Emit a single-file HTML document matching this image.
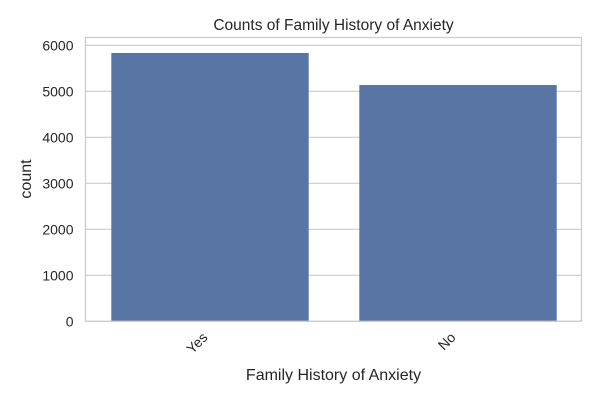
<!DOCTYPE html>
<html><head><meta charset="utf-8"><style>
body{margin:0;background:#fff;font-family:"Liberation Sans","DejaVu Sans",sans-serif}
</style></head><body>
<svg width="600" height="400" xmlns="http://www.w3.org/2000/svg">
<rect width="600" height="400" fill="#fff"/>
<text x="333.5" y="30" text-anchor="middle" font-size="15.5" fill="#262626">Counts of Family History of Anxiety</text>
<g id="grid"></g><g id="bars"></g><g id="ticks"></g>
<rect x="85.5" y="37.5" width="496" height="283.8" fill="none" stroke="#cccccc" stroke-width="1.3"/>
<text x="333.5" y="380" text-anchor="middle" font-size="16" fill="#262626">Family History of Anxiety</text>
<text transform="translate(31,179) rotate(-90)" text-anchor="middle" font-size="16" fill="#262626">count</text>
</svg>
<script>
const categories=["Yes","No"];
const counts=[5833,5137];
const yTicks=[0,1000,2000,3000,4000,5000,6000];
const ns="http://www.w3.org/2000/svg";
const L=85.5,R=581.5,Y0=321.3,PX=0.046;
const y=v=>Y0-v*PX;
const band=(R-L)/categories.length;
const x=i=>L+band*i+band/2;
const g=document.getElementById('grid'),b=document.getElementById('bars'),t=document.getElementById('ticks');
function mk(tag,a,p){const e=document.createElementNS(ns,tag);for(const k in a)e.setAttribute(k,a[k]);p.appendChild(e);return e;}
yTicks.forEach(v=>{
 const l=mk('line',{x1:L,x2:R,y1:y(v),y2:y(v),stroke:'#cccccc','stroke-width':1.1},g);
 
 
 const tx=mk('text',{x:L-12,y:y(v)+5,'text-anchor':'end','font-size':14,fill:'#262626'},t);
 tx.textContent=v;
 
 
});
categories.forEach((c,i)=>{
 const w=band*0.8;
 const r=mk('rect',{x:x(i)-w/2+1,y:y(counts[i]),width:w-1,height:Y0-y(counts[i]),fill:'#5975a4'},b);
 
 
 const tx=mk('text',{'text-anchor':'end','font-size':14,fill:'#262626',transform:`translate(${x(i)-1},${Y0+17}) rotate(-45)`},t);
 tx.textContent=c;
 
 
});
</script>
</body></html>
